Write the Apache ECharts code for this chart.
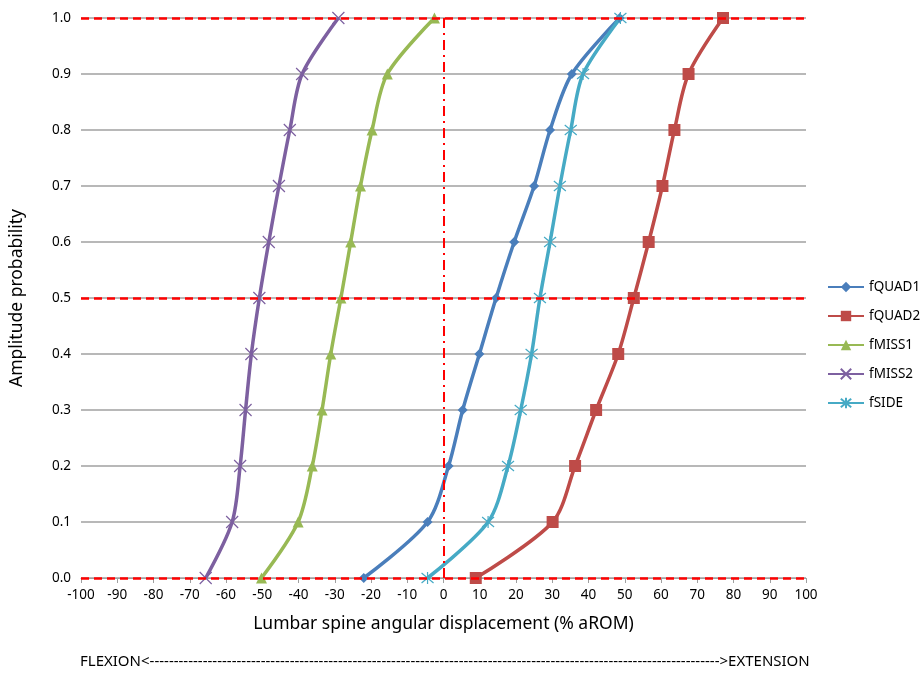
<!DOCTYPE html>
<html>
<head>
<meta charset="utf-8">
<script src="https://cdn.jsdelivr.net/npm/echarts@6/dist/echarts.min.js"></script>
<style>
  html, body { margin: 0; padding: 0; background: #fff; }
  #chart { width: 921px; height: 674px; }
</style>
</head>
<body>
<div id="chart"></div>
<script>
// amplitude probability levels (y)
const probLevels = [0.0, 0.1, 0.2, 0.3, 0.4, 0.5, 0.6, 0.7, 0.8, 0.9, 1.0]

// lumbar displacement (% aROM) at each level
const fQUAD1 = [-22.0, -4.4, 1.4, 5.3, 9.9, 14.5, 19.5, 25.0, 29.4, 35.4, 48.6]
const fQUAD2 = [8.9, 30.1, 36.3, 42.1, 48.2, 52.5, 56.6, 60.4, 63.7, 67.6, 77.1]
const fMISS1 = [-50.2, -40.1, -36.2, -33.5, -31.1, -28.3, -25.6, -22.9, -19.7, -15.5, -2.5]
const fMISS2 = [-65.6, -58.3, -56.1, -54.6, -53.0, -50.8, -48.2, -45.4, -42.4, -39.0, -29.0]
const fSIDE = [-4.4, 12.3, 17.8, 21.3, 24.3, 26.6, 29.4, 32.1, 35.1, 38.5, 48.8]

const seriesNames = ['fQUAD1', 'fQUAD2', 'fMISS1', 'fMISS2', 'fSIDE']
const seriesValues = [fQUAD1, fQUAD2, fMISS1, fMISS2, fSIDE]
const seriesColors = ['#4A7EBB', '#BE4B48', '#98B954', '#7D60A0', '#46AAC5']

const crossPath = 'path://M0,0L10,10M10,0L0,10'
const starPath = 'path://M0,0L10,10M10,0L0,10M5,-1L5,11'
const seriesSymbols = ['diamond', 'rect', 'triangle', crossPath, starPath]
const seriesSymbolSizes = [10, 12, 11, 12, 12]

const font = '"Noto Sans", sans-serif'

const chart = echarts.init(document.getElementById('chart'))

const series = seriesNames.map((name, i) => {
  const isPath = i >= 3
  return {
    name: name,
    type: 'line',
    smooth: 0.3,
    data: seriesValues[i].map((v, k) => [v, probLevels[k]]),
    symbol: seriesSymbols[i],
    symbolSize: seriesSymbolSizes[i],
    showAllSymbol: true,
    z: 3,
    lineStyle: { color: seriesColors[i], width: 3.5 },
    itemStyle: {
      color: seriesColors[i],
      borderColor: seriesColors[i],
      borderWidth: isPath ? 1.2 : 0
    },
    emphasis: { disabled: true }
  }
})

// red reference lines
series.push({
  name: 'ref',
  type: 'line',
  data: [],
  silent: true,
  markLine: {
    silent: true,
    symbol: 'none',
    label: { show: false },
    lineStyle: { color: '#FF0000', width: 2.5, type: [8, 5] },
    data: [
      { yAxis: 0 },
      { yAxis: 0.5 },
      { yAxis: 1 },
      { xAxis: 0, lineStyle: { color: '#FF0000', width: 2, type: [10, 5, 2, 5] } }
    ]
  },
  z: 2
})

const option = {
  animation: false,
  backgroundColor: '#fff',
  textStyle: { fontFamily: font },
  grid: {
    left: 79,
    right: 115,
    top: 18,
    bottom: 96,
    containLabel: false
  },
  legend: {
    data: seriesNames,
    orient: 'vertical',
    left: 822,
    top: 275,
    itemGap: 15,
    itemWidth: 36,
    itemHeight: 13,
    textStyle: { fontFamily: font, fontSize: 13.5, color: '#000' }
  },
  xAxis: {
    type: 'value',
    min: -100,
    max: 100,
    interval: 10,
    name: 'Lumbar spine angular displacement (% aROM)',
    nameLocation: 'middle',
    nameGap: 37,
    nameTextStyle: { fontFamily: font, fontSize: 17.5, color: '#000' },
    axisLine: { show: true, onZero: false, lineStyle: { color: '#A0A0A0' } },
    axisTick: { show: true, length: 5, lineStyle: { color: '#A0A0A0' } },
    axisLabel: { fontFamily: font, fontSize: 13.5, color: '#000', margin: 10 },
    splitLine: { show: false }
  },
  yAxis: {
    type: 'value',
    min: 0,
    max: 1,
    interval: 0.1,
    name: 'Amplitude probability',
    nameLocation: 'middle',
    nameGap: 55,
    nameRotate: 90,
    nameTextStyle: { fontFamily: font, fontSize: 17.5, color: '#000' },
    axisLine: { show: false },
    axisTick: { show: false },
    axisLabel: {
      fontFamily: font,
      fontSize: 13.5,
      color: '#000',
      margin: 10,
      formatter: v => v.toFixed(1)
    },
    splitLine: { show: true, lineStyle: { color: '#A0A0A0', width: 1.5 } }
  },
  graphic: [
    {
      type: 'text',
      left: 80,
      top: 654,
      style: {
        text: 'FLEXION<' + '-'.repeat(118) + '>EXTENSION',
        font: '15px ' + font,
        fill: '#000'
      }
    }
  ],
  series: series
}

chart.setOption(option)
</script>
</body>
</html>
